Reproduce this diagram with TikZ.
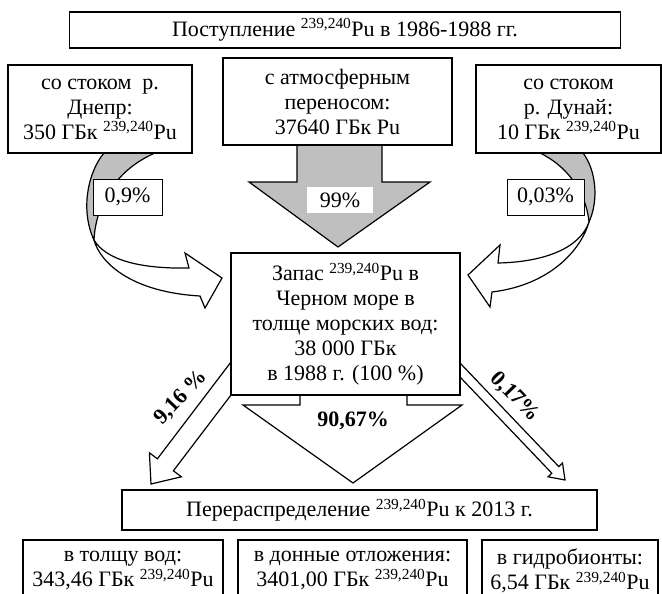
\documentclass[tikz,border=0pt]{standalone}
\usepackage{fontspec}
\setmainfont{Liberation Serif}
\newcommand{\pu}{\textsuperscript{239,240}Pu}
\definecolor{shade}{RGB}{191,191,191}

\begin{document}
\begin{tikzpicture}[
  x=1pt, y=-1pt,
  font=\fontsize{22}{25}\selectfont,
  box/.style={draw, line width=1.2pt, align=center, inner sep=0pt, fill=white},
  tag/.style={draw, line width=0.6pt, fill=white, inner sep=0pt},
  pct/.style={font=\fontsize{22}{25}\selectfont\bfseries, inner sep=1pt},
  blk/.style={draw, line width=1.2pt, line join=miter, fill=white},
  flap/.style={draw, line width=1.2pt, line join=miter},
]
  \useasboundingbox (0,0) rectangle (662,594);

  % block arrows first, the boxes go on top of them
  \filldraw[blk, fill=shade] (297,140) -- (297,182) -- (249,182) -- (338,247) -- (430,182) -- (382,182) -- (382,140);
  \filldraw[blk] (300,390) -- (300,405) -- (243,405) -- (353,483) -- (462,405) -- (407,405) -- (407,390);
  \filldraw[blk] (231,362) -- (157.4,458.8) -- (149.4,452.8) -- (151,484) -- (181.4,476.8) -- (173.4,470.8) -- (231,395);
  \filldraw[blk] (460,363) -- (558.8,466.6) -- (562.5,463) -- (565,480) -- (548.1,476.8) -- (551.8,473.2) -- (460,377);

  % curved arrows from the rivers
  \filldraw[flap, fill=shade] (104,153) .. controls (88,172) and (80,210) .. (94,240) .. controls (96,200) and (120,168) .. (155,153);
  \filldraw[flap, fill=white] (94,240) .. controls (106,260) and (140,269) .. (189,268) -- (185,253) -- (222,278) -- (205,308) -- (200,296) .. controls (130,292) and (100,262) .. (94,240) -- cycle;
  \filldraw[flap, fill=shade] (540,153) .. controls (565,165) and (586,190) .. (589,222) .. controls (599,200) and (596,170) .. (583,153);
  \filldraw[flap, fill=white] (589,222) .. controls (580,248) and (545,262) .. (498,263) -- (500,245) -- (468,275) -- (490,307) -- (492,292) .. controls (550,285) and (581,250) .. (589,222) -- cycle;

  \node[box, minimum width=551, minimum height=36] (intake) at (345,30) {Поступление \pu{} в 1986-1988 гг.};
  \node[box, minimum width=184, minimum height=88] (dnepr) at (100,109) {со стоком~~р.\\Днепр:\\350 ГБк \pu};
  \node[box, minimum width=229, minimum height=87] (atmo) at (337.5,101.5) {с атмосферным\\переносом:\\37640 ГБк Pu};
  \node[box, minimum width=185, minimum height=88] (dunai) at (568.5,109) {со стоком\\р. Дунай:\\10 ГБк \pu};

  \node[box, minimum width=229, minimum height=142] (stock) at (345.5,324) {Запас \pu{} в\\Черном море в\\толще морских вод:\\38 000 ГБк\\в 1988 г. (100 \%)};

  \node[tag, minimum width=69, minimum height=36] (pdnepr) at (127.5,197) {0,9\%};
  \node[tag, minimum width=77, minimum height=36] (pdunai) at (545.5,197) {0,03\%};
  \node[fill=white, inner sep=0pt, minimum width=66, minimum height=26] (patmo) at (340,200) {99\%};

  \node[pct] (psed) at (353,421) {90,67\%};
  \node[pct, rotate=46] (pwat) at (181,398) {9,16 \%};
  \node[pct, rotate=-46] (pbio) at (515,397) {0,17\%};

  \node[box, minimum width=475, minimum height=40] (redist) at (359.5,510) {Перераспределение \pu{} к 2013 г.};
  \node[box, minimum width=200, minimum height=62] (water) at (123,571) {в толщу вод:\\343,46 ГБк \pu};
  \node[box, minimum width=229, minimum height=62] (sedim) at (352.5,571) {в донные отложения:\\3401,00 ГБк \pu};
  \node[box, minimum width=176, minimum height=62] (biota) at (570,571) {в гидробионты:\\6,54 ГБк \pu};
\end{tikzpicture}
\end{document}
